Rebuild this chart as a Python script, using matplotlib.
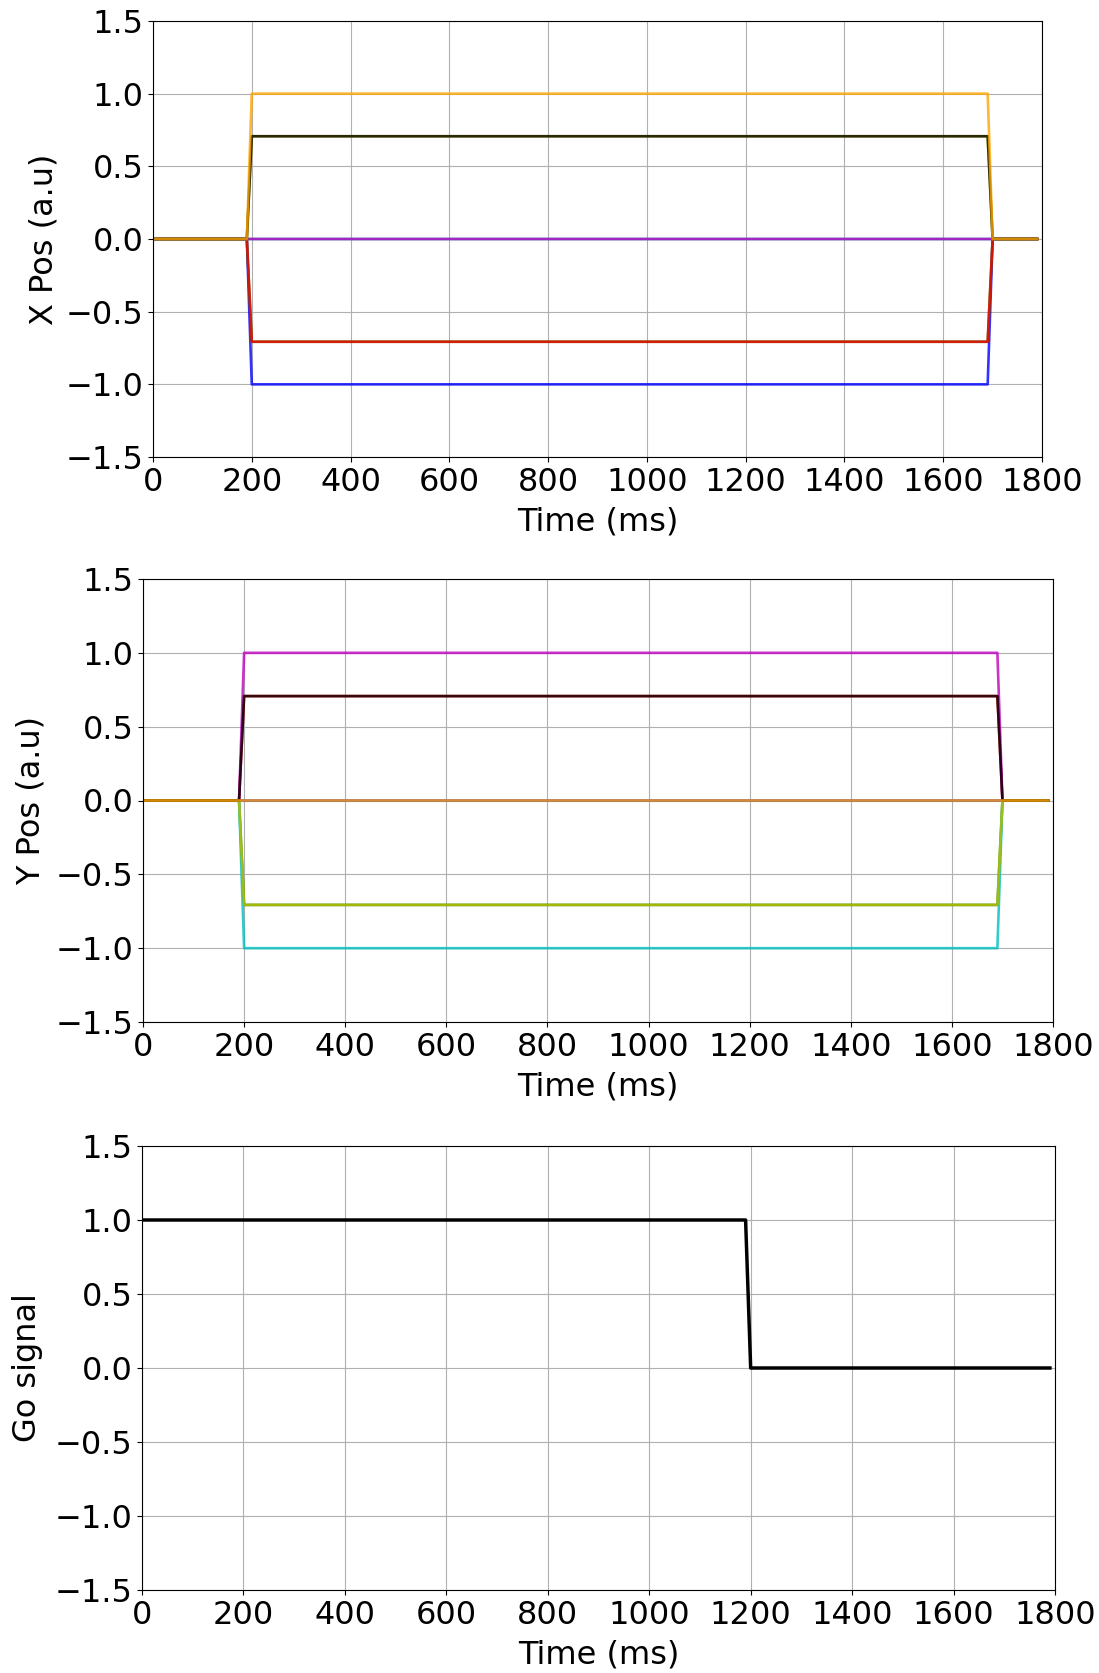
import matplotlib
matplotlib.use("Agg")
import matplotlib.pyplot as plt

# Keypoint times (ms) of the position trajectories
traj_time = [0, 190, 200, 1690, 1700, 1790]
# Target angles (deg), plotting order and colours
target_angles = [180, 225, 135, 270, 90, 315, 45, 0]
target_colors = ['b', 'g', 'r', 'c', 'm', 'y', 'k', 'orange']
# Target X / Y amplitudes (a.u.), same order as above
target_x = [-1.0, -0.707, -0.707, 0.0, 0.0, 0.707, 0.707, 1.0]
target_y = [0.0, -0.707, 0.707, -1.0, 1.0, -0.707, 0.707, 0.0]

# Go signal keypoints
go_time = [0, 1190, 1200, 1790]
go_value = [1.0, 1.0, 0.0, 0.0]

W, H = 1099, 1673
fig = plt.figure(figsize=(W / 100, H / 100), dpi=100)
FS = 23

def ax_at(l, t, r, b):
    return fig.add_axes([l / W, 1 - b / H, (r - l) / W, (b - t) / H])

ax1 = ax_at(153, 21, 1042, 457)
ax2 = ax_at(143, 579, 1053, 1022)
ax3 = ax_at(142, 1146, 1055, 1590)

for amp_list, ax, lab, pad in [(target_x, ax1, 'X Pos (a.u)', 4), (target_y, ax2, 'Y Pos (a.u)', 6)]:
    for amp, col in zip(amp_list, target_colors):
        vals = [0.0, 0.0, amp, amp, 0.0, 0.0]
        ax.plot(traj_time, vals, color=col, alpha=0.8, lw=1.9, snap=False)
    ax.set_ylabel(lab, fontsize=FS, labelpad=pad)

ax3.plot(go_time, go_value, color='k', lw=2.5, snap=False)
ax3.set_ylabel('Go signal', fontsize=FS, labelpad=8)

for ax in (ax1, ax2, ax3):
    ax.set_xlim(0, 1800)
    ax.set_ylim(-1.5, 1.5)
    ax.set_xticks(range(0, 1801, 200))
    ax.set_yticks([-1.5, -1.0, -0.5, 0.0, 0.5, 1.0, 1.5])
    ax.grid(True)
    ax.tick_params(labelsize=FS)
    ax.set_xlabel('Time (ms)', fontsize=FS, labelpad=6)

fig.savefig('out.png', dpi=100)
